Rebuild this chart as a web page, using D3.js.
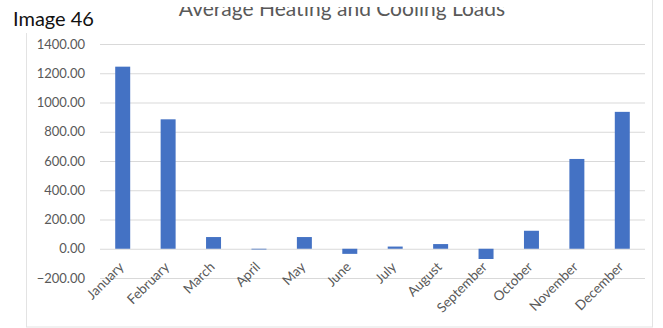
<!DOCTYPE html>
<html>
<head>
<meta charset="utf-8">
<script src="https://cdn.jsdelivr.net/npm/d3@7"></script>
<style>
  body { margin: 0; background: #fff; }
  svg { display: block; }
</style>
</head>
<body>
<div id="chart"></div>
<script>
const months = ['January', 'February', 'March', 'April', 'May', 'June', 'July',
  'August', 'September', 'October', 'November', 'December'];
const loads = [1245, 885, 80, -5, 80, -35, 15, 32, -70, 123, 614, 936];
const yTicks = [-200, 0, 200, 400, 600, 800, 1000, 1200, 1400];
const title = 'Average Heating and Cooling Loads';
const caption = 'Image 46';

const width = 663;
const height = 328;
const plot = { left: 100, right: 645, top: 44, bottom: 278 };

const svg = d3.select('#chart')
  .append('svg')
  .attr('width', width)
  .attr('height', height);

// chart frame (top edge is cut off in the picture)
svg.append('rect')
  .attr('x', 26.5)
  .attr('y', -10)
  .attr('width', 626)
  .attr('height', 337)
  .attr('fill', '#fff')
  .attr('stroke', '#e3e3e3');

const x = d3.scaleBand()
  .domain(months)
  .range([plot.left, plot.right])
  .paddingInner(0.67)
  .paddingOuter(0.335);

const y = d3.scaleLinear()
  .domain([-200, 1400])
  .range([plot.bottom, plot.top]);

// gridlines + y labels
const yAxis = d3.axisLeft(y)
  .tickValues(yTicks)
  .tickSize(-(plot.right - plot.left))
  .tickPadding(15)
  .tickFormat(d3.format('.2f'));

const gy = svg.append('g')
  .attr('transform', `translate(${plot.left},0)`)
  .call(yAxis);
gy.select('.domain').remove();
gy.selectAll('.tick line').attr('stroke', '#d9d9d9');
gy.selectAll('.tick text')
  .attr('fill', '#595959')
  .style('font-family', 'Lato, sans-serif')
  .style('font-size', '13px');

// bars
svg.append('g')
  .selectAll('rect')
  .data(months)
  .join('rect')
  .attr('x', d => x(d))
  .attr('width', x.bandwidth())
  .attr('y', (d, i) => y(Math.max(0, loads[i])))
  .attr('height', (d, i) => Math.abs(y(loads[i]) - y(0)))
  .attr('fill', '#4472c4');

// x labels, rotated
const xAxis = d3.axisBottom(x).tickSize(0).tickPadding(0);
const gx = svg.append('g')
  .attr('transform', `translate(0,${y(0)})`)
  .call(xAxis);
gx.select('.domain').remove();
gx.selectAll('.tick text')
  .attr('fill', '#595959')
  .style('font-family', 'Lato, sans-serif')
  .style('font-size', '13.5px')
  .attr('text-anchor', 'end')
  .attr('dy', null)
  .attr('y', 0)
  .attr('transform', 'translate(2,19) rotate(-45)');

// title, clipped at the top like the picture
svg.append('clipPath')
  .attr('id', 'titleClip')
  .append('rect')
  .attr('x', 0).attr('y', 7).attr('width', width).attr('height', 30);

svg.append('text')
  .attr('clip-path', 'url(#titleClip)')
  .attr('x', 342)
  .attr('y', 16)
  .attr('text-anchor', 'middle')
  .attr('fill', '#595959')
  .style('font-family', 'Lato, sans-serif')
  .style('font-size', '21px')
  .text(title);

// caption label over the frame
const cap = svg.append('g');
cap.append('rect')
  .attr('x', 0).attr('y', 0).attr('width', 95).attr('height', 33)
  .attr('fill', '#fff');
cap.append('text')
  .attr('x', 13)
  .attr('y', 26)
  .attr('fill', '#111')
  .style('font-family', 'Lato, sans-serif')
  .style('font-size', '20px')
  .text(caption);
</script>
</body>
</html>
